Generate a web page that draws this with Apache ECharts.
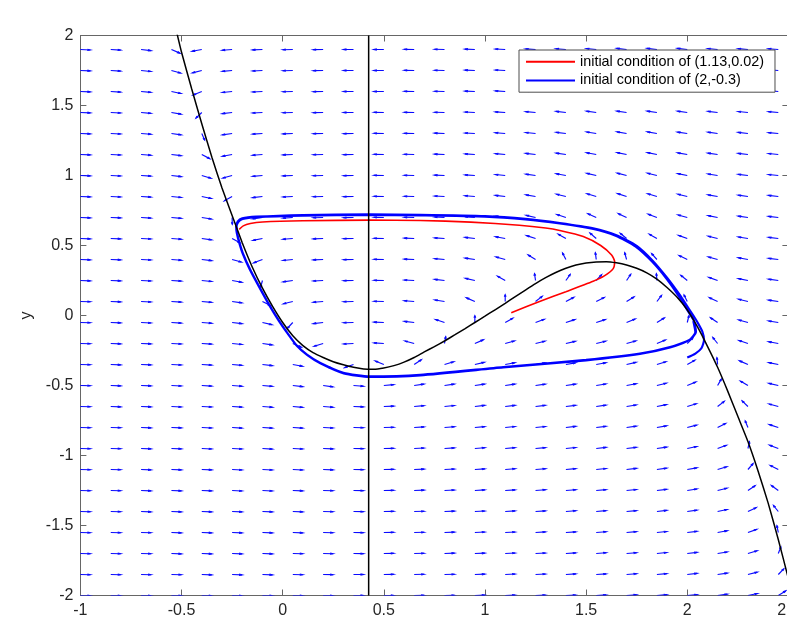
<!DOCTYPE html>
<html>
<head>
<meta charset="utf-8">
<script src="https://cdn.jsdelivr.net/npm/echarts@6/dist/echarts.min.js"></script>
<style>html,body{margin:0;padding:0;background:#fff}#chart{width:787px;height:627px}</style>
</head>
<body>
<div id="chart"></div>
<script>
// ---------- data ----------
const xTickValues = [-1, -0.5, 0, 0.5, 1, 1.5, 2, 2.5];
const yTickValues = [-2, -1.5, -1, -0.5, 0, 0.5, 1, 1.5, 2];

// quiver grid
const quiverX = [-1,-0.85,-0.7,-0.55,-0.4,-0.25,-0.1,0.05,0.2,0.35,0.5,0.65,0.8,0.95,1.1,1.25,1.4,1.55,1.7,1.85,2,2.15,2.3,2.45];
const quiverY = [-2,-1.85,-1.7,-1.55,-1.4,-1.25,-1.1,-0.95,-0.8,-0.65,-0.5,-0.35,-0.2,-0.05,0.1,0.25,0.4,0.55,0.7,0.85,1,1.15,1.3,1.45,1.6,1.75,1.9];
// arrow directions (degrees, data space), one row per quiverY value
const quiverAngles = [
 [-2,-2,-2,-2,-3,-3,-2,-2,-1,0,0,1,2,3,3,4,4,5,6,7,8,11,17,42],
 [-2,-2,-2,-2,-3,-3,-3,-2,-1,0,1,2,2,3,4,4,5,5,6,7,9,12,20,56],
 [-2,-2,-2,-3,-3,-3,-3,-2,-2,-1,1,2,3,3,4,4,5,6,6,8,9,13,23,75],
 [-2,-2,-2,-3,-3,-3,-3,-3,-2,-1,1,2,3,4,4,5,5,6,7,8,10,15,27,98],
 [-2,-2,-3,-3,-3,-3,-3,-3,-2,-1,1,2,3,4,5,5,6,7,7,9,11,17,34,119],
 [-2,-2,-3,-3,-3,-4,-4,-3,-2,-1,1,3,4,5,5,6,6,7,8,10,13,19,44,134],
 [-2,-2,-3,-3,-3,-4,-4,-4,-3,-1,1,3,4,5,6,6,7,8,9,11,14,23,59,144],
 [-2,-2,-3,-3,-4,-4,-5,-4,-3,-1,1,4,5,6,7,7,8,9,10,12,17,28,81,151],
 [-2,-2,-3,-3,-4,-5,-5,-5,-4,-2,2,5,6,7,8,8,9,10,11,14,20,36,106,155],
 [-2,-3,-3,-4,-4,-5,-6,-7,-6,-3,3,7,8,9,9,10,10,11,13,16,24,48,126,159],
 [-2,-3,-3,-4,-5,-6,-7,-9,-11,-6,7,12,12,12,12,11,12,13,15,19,30,68,140,162],
 [-2,-3,-3,-4,-5,-7,-9,-15,-33,-153,150,44,23,18,15,14,14,15,18,24,39,94,148,164],
 [-2,-3,-3,-4,-5,-8,-12,-32,-156,-176,175,159,83,32,22,19,18,19,22,31,55,119,154,165],
 [-2,-3,-4,-5,-6,-9,-18,-123,-171,-178,177,171,154,90,39,28,25,25,30,42,80,136,158,167],
 [-2,-3,-4,-5,-7,-11,-36,-161,-174,-178,178,174,167,148,90,48,37,36,42,62,109,146,161,168],
 [-3,-3,-4,-5,-8,-15,-101,-169,-176,-179,179,176,171,162,141,96,64,57,65,93,131,153,164,169],
 [-3,-3,-4,-6,-9,-22,-151,-172,-177,-179,179,177,173,168,158,138,110,95,101,122,145,158,165,170],
 [-3,-3,-4,-6,-11,-38,-164,-174,-177,-179,179,177,175,171,165,155,141,129,130,141,153,161,167,170],
 [-3,-3,-5,-7,-13,-89,-169,-175,-178,-179,179,178,176,173,168,162,154,147,146,151,158,164,168,171],
 [-3,-4,-5,-8,-17,-141,-171,-176,-178,-179,179,178,176,174,171,166,161,157,155,157,161,166,169,171],
 [-3,-4,-5,-9,-23,-158,-173,-177,-178,-179,179,178,177,175,172,169,165,162,160,161,164,167,170,172],
 [-3,-4,-6,-10,-37,-165,-174,-177,-178,-179,179,178,177,175,173,171,168,165,164,164,166,168,171,172],
 [-3,-4,-6,-11,-73,-169,-175,-177,-179,-179,179,179,177,176,174,172,170,167,166,166,168,169,171,173],
 [-3,-4,-7,-14,-126,-171,-176,-178,-179,-180,179,179,178,176,175,173,171,169,168,168,169,170,172,173],
 [-3,-5,-7,-17,-150,-172,-176,-178,-179,-180,180,179,178,177,175,174,172,171,170,169,170,171,172,173],
 [-3,-5,-8,-22,-160,-173,-176,-178,-179,-180,180,179,178,177,176,174,173,172,171,170,171,172,173,174],
 [-4,-5,-9,-32,-165,-174,-177,-178,-179,-180,180,179,178,177,176,175,174,172,171,171,171,172,173,174]
];

// cubic nullcline
const cubicX = [-0.53,-0.5,-0.45,-0.4,-0.35,-0.3,-0.25,-0.2,-0.15,-0.1,-0.05,0,0.05,0.1,0.15,0.2,0.25,0.3,0.35,0.4,0.45,0.5,0.55,0.6,0.65,0.7,0.75,0.8,0.85,0.9,0.95,1.0,1.05,1.1,1.15,1.2,1.25,1.3,1.35,1.4,1.45,1.5,1.55,1.6,1.65,1.7,1.75,1.8,1.85,1.9,1.95,2.0,2.05,2.1,2.15,2.2,2.25,2.3,2.35,2.4,2.45,2.5,2.53];
const cubicY = [2.06,1.88,1.62,1.37,1.13,0.91,0.715,0.52,0.345,0.195,0.065,-0.05,-0.145,-0.215,-0.265,-0.3,-0.33,-0.352,-0.37,-0.382,-0.384,-0.375,-0.358,-0.333,-0.3,-0.26,-0.222,-0.182,-0.139,-0.095,-0.05,-0.005,0.041,0.087,0.135,0.182,0.228,0.27,0.307,0.337,0.36,0.375,0.383,0.384,0.376,0.361,0.337,0.305,0.26,0.2,0.13,0.04,-0.08,-0.22,-0.37,-0.54,-0.72,-0.9,-1.11,-1.34,-1.6,-1.88,-2.08];

// vertical nullcline
const vlineX = [0.425, 0.425];
const vlineY = [-2, 2];

// trajectory from (1.13, 0.02)
const redX = [1.13,1.27,1.4,1.535,1.59,1.634,1.641,1.626,1.572,1.486,1.37,1.3,1.17,0.93,0.68,0.43,0.1,-0.1,-0.16,-0.195,-0.215];
const redY = [0.02,0.1,0.17,0.245,0.283,0.335,0.385,0.432,0.5,0.564,0.607,0.625,0.645,0.667,0.679,0.681,0.677,0.668,0.657,0.64,0.615];

// trajectory from (2, -0.3)
const blueX = [2.0,2.04,2.07,2.083,2.075,2.056,2.03,2.0,1.964,1.9,1.83,1.75,1.65,1.535,1.37,1.2,1.0,0.68,0.43,0.1,-0.13,-0.2,-0.222,-0.23,-0.227,-0.215,-0.197,-0.163,-0.115,-0.065,-0.018,0.025,0.069,0.12,0.184,0.3,0.43,0.68,1.09,1.5,1.766,1.915,2.013,2.043,2.032,2.0,
  1.962,1.898,1.826,1.745,1.646,1.53,1.37,1.2,1.0,0.68,0.43,0.1,-0.13,-0.198,-0.22,-0.228,-0.225,-0.213,-0.195,-0.161,-0.113,-0.063,-0.016,0.027,0.071,0.122,0.186,0.302,0.43,0.68,1.09,1.5,1.766,1.915,2.01,2.04,2.03];
const blueY = [-0.3,-0.272,-0.234,-0.175,-0.116,-0.062,0.0,0.065,0.145,0.27,0.39,0.497,0.573,0.622,0.66,0.69,0.71,0.719,0.722,0.718,0.706,0.694,0.672,0.635,0.59,0.52,0.44,0.33,0.2,0.07,-0.04,-0.13,-0.215,-0.28,-0.338,-0.41,-0.435,-0.424,-0.368,-0.317,-0.272,-0.226,-0.172,-0.118,-0.035,0.04,
  0.13,0.262,0.385,0.492,0.57,0.62,0.657,0.686,0.706,0.715,0.719,0.714,0.703,0.69,0.668,0.632,0.588,0.518,0.438,0.328,0.198,0.068,-0.042,-0.133,-0.218,-0.283,-0.341,-0.413,-0.438,-0.427,-0.371,-0.32,-0.275,-0.229,-0.176,-0.12,-0.04];

const legendNames = ['initial condition of (1.13,0.02)', 'initial condition of (2,-0.3)'];

// ---------- build ----------
const zip = (xs, ys) => xs.map((x, i) => [x, ys[i]]);
const quiverData = [];
quiverY.forEach((y, j) => quiverX.forEach((x, k) => quiverData.push([x, y, quiverAngles[j][k]])));

const FONT = 'Liberation Sans, Arial, Helvetica, sans-serif';
const AXIS_COLOR = '#666666';
const LABEL_COLOR = '#262626';
const ARROW_LEN = 0.049;
const ARROW_COLOR = '#0a0aff';

const chart = echarts.init(document.getElementById('chart'), null, { renderer: 'canvas' });

const axisCommon = {
  type: 'value',
  axisLine: { show: true, onZero: false, lineStyle: { color: AXIS_COLOR, width: 1 } },
  axisTick: { show: true, inside: true, length: 6, lineStyle: { color: AXIS_COLOR } },
  splitLine: { show: false },
  axisLabel: { fontSize: 16, color: LABEL_COLOR, fontFamily: FONT, margin: 7 }
};

const option = {
  animation: false,
  backgroundColor: '#ffffff',
  grid: { left: 80.4, top: 35.5, width: 708, height: 560, containLabel: false, outerBoundsMode: 'none' },
  xAxis: [
    Object.assign({}, axisCommon, { position: 'bottom', min: xTickValues[0], max: xTickValues[xTickValues.length - 1], interval: 0.5 }),
    Object.assign({}, axisCommon, { position: 'top', min: xTickValues[0], max: xTickValues[xTickValues.length - 1], interval: 0.5, axisLabel: { show: false } })
  ],
  yAxis: [
    Object.assign({}, axisCommon, { position: 'left', min: yTickValues[0], max: yTickValues[yTickValues.length - 1], interval: 0.5,
      name: 'y', nameLocation: 'middle', nameGap: 34, nameRotate: 90,
      nameTextStyle: { fontSize: 16, color: LABEL_COLOR, fontFamily: FONT } }),
    Object.assign({}, axisCommon, { position: 'right', min: yTickValues[0], max: yTickValues[yTickValues.length - 1], interval: 0.5, axisLabel: { show: false } })
  ],
  legend: {
    data: legendNames,
    orient: 'vertical',
    left: 519, top: 50,
    icon: 'rect',
    itemWidth: 49, itemHeight: 2,
    itemGap: 4.6,
    padding: [4.8, 11, 4.8, 7],
    backgroundColor: '#ffffff',
    borderColor: '#4d4d4d', borderWidth: 1, borderRadius: 0,
    itemStyle: { borderWidth: 0 },
    textStyle: { fontSize: 14.4, color: '#000000', fontFamily: FONT, padding: 0 },
    selectedMode: false
  },
  series: [
    {
      name: 'field', type: 'custom', xAxisIndex: 0, yAxisIndex: 0, clip: true, silent: true, z: 1,
      data: quiverData,
      renderItem: function (params, api) {
        const x = api.value(0), y = api.value(1), a = api.value(2) * Math.PI / 180;
        const u = ARROW_LEN * Math.cos(a), v = ARROW_LEN * Math.sin(a);
        const x1 = x + u, y1 = y + v;
        const al = 0.3, be = 0.3;
        const p0 = api.coord([x, y]);
        const p1 = api.coord([x1, y1]);
        const h1 = api.coord([x1 - al * (u + be * v), y1 - al * (v - be * u)]);
        const h2 = api.coord([x1 - al * (u - be * v), y1 - al * (v + be * u)]);
        const st = { stroke: ARROW_COLOR, lineWidth: 1.15, fill: null };
        return { type: 'group', children: [
          { type: 'polyline', shape: { points: [p0, p1] }, style: st },
          { type: 'polyline', shape: { points: [h1, p1, h2] }, style: st }
        ] };
      }
    },
    {
      name: legendNames[0], type: 'line', data: zip(redX, redY), showSymbol: false, symbol: 'none',
      color: '#ff0000', lineStyle: { color: '#ff0000', width: 1.6 }, smooth: 0.2, z: 3, silent: true
    },
    {
      name: legendNames[1], type: 'line', data: zip(blueX, blueY), showSymbol: false, symbol: 'none',
      color: '#0000ff', lineStyle: { color: '#0000ff', width: 2.2 }, smooth: 0.2, z: 3, silent: true
    },
    {
      name: 'cubic nullcline', type: 'line', data: zip(cubicX, cubicY), showSymbol: false, symbol: 'none',
      color: '#000000', lineStyle: { color: '#000000', width: 1.5 }, smooth: 0.15, z: 4, silent: true
    },
    {
      name: 'vertical nullcline', type: 'line', data: zip(vlineX, vlineY), showSymbol: false, symbol: 'none',
      color: '#000000', lineStyle: { color: '#000000', width: 1.5 }, z: 4, silent: true
    }
  ]
};
chart.setOption(option);
</script>
</body>
</html>
